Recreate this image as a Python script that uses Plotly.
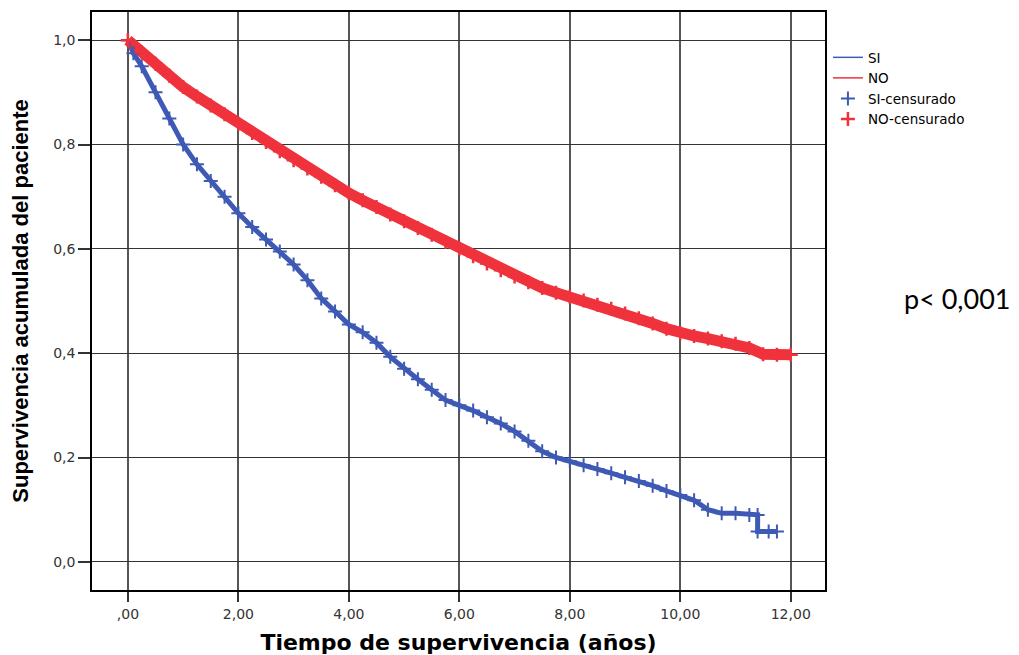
import plotly.graph_objects as go

# ---- data ----
t_no = [0, 0.25, 0.5, 0.75, 1, 1.25, 1.5, 1.75, 2, 2.25, 2.5, 2.75, 3, 3.25, 3.5, 3.75,
        4, 4.25, 4.5, 4.75, 5, 5.25, 5.5, 5.75, 6, 6.25, 6.5, 6.75, 7, 7.25, 7.5, 7.75,
        8, 8.25, 8.5, 8.75, 9, 9.25, 9.5, 9.75, 10, 10.25, 10.5, 10.75, 11, 11.25, 11.5,
        11.75, 12]
s_no = [1.0, 0.977, 0.955, 0.932, 0.91, 0.892, 0.875, 0.858, 0.84, 0.822, 0.805, 0.787,
        0.77, 0.754, 0.738, 0.722, 0.707, 0.693, 0.68, 0.666, 0.653, 0.64, 0.627, 0.613,
        0.60, 0.586, 0.572, 0.559, 0.547, 0.536, 0.525, 0.516, 0.508, 0.501, 0.493, 0.485,
        0.476, 0.467, 0.457, 0.447, 0.438, 0.433, 0.428, 0.423, 0.418, 0.41, 0.398, 0.397,
        0.397]

t_si = [0, 0.1, 0.25, 0.5, 0.75, 1, 1.25, 1.5, 1.75, 2, 2.25, 2.5, 2.75, 3, 3.25, 3.5,
        3.75, 4, 4.25, 4.5, 4.75, 5, 5.25, 5.5, 5.75, 6, 6.25, 6.5, 6.75, 7, 7.25, 7.5,
        7.75, 8, 8.25, 8.5, 8.75, 9, 9.25, 9.5, 9.75, 10, 10.25, 10.5, 10.75, 11, 11.25,
        11.4, 11.4, 11.6, 11.75]
s_si = [1.0, 0.975, 0.95, 0.9, 0.85, 0.80, 0.762, 0.73, 0.70, 0.668, 0.642, 0.618, 0.595,
        0.57, 0.54, 0.505, 0.48, 0.455, 0.44, 0.42, 0.393, 0.37, 0.35, 0.33, 0.31, 0.30,
        0.29, 0.277, 0.265, 0.25, 0.232, 0.212, 0.2, 0.193, 0.185, 0.178, 0.17, 0.162,
        0.155, 0.146, 0.136, 0.128, 0.118, 0.1, 0.093, 0.093, 0.09, 0.09, 0.058, 0.058,
        0.058]

x_ticks = [0, 2, 4, 6, 8, 10, 12]
x_labels = [",00", "2,00", "4,00", "6,00", "8,00", "10,00", "12,00"]
y_ticks = [0, 0.2, 0.4, 0.6, 0.8, 1.0]
y_labels = ["0,0", "0,2", "0,4", "0,6", "0,8", "1,0"]

BLUE = "#3F5AB4"
RED = "#EF323C"

fig = go.Figure()

# thick visual bands (no legend)
fig.add_trace(go.Scatter(x=t_si, y=s_si, mode="lines", line=dict(color=BLUE, width=5),
                         showlegend=False, hoverinfo="skip"))
fig.add_trace(go.Scatter(x=t_no, y=s_no, mode="lines", line=dict(color=RED, width=11),
                         showlegend=False, hoverinfo="skip"))

# legend entries
fig.add_trace(go.Scatter(x=t_si, y=s_si, mode="lines", name="SI",
                         line=dict(color=BLUE, width=1.5)))
fig.add_trace(go.Scatter(x=t_no, y=s_no, mode="lines", name="NO",
                         line=dict(color=RED, width=1.5)))
fig.add_trace(go.Scatter(x=t_si, y=s_si, mode="markers", name="SI-censurado",
                         marker=dict(symbol="cross-thin", size=10, color=BLUE,
                                     line=dict(color=BLUE, width=2))))
fig.add_trace(go.Scatter(x=t_no, y=s_no, mode="markers", name="NO-censurado",
                         marker=dict(symbol="cross-thin", size=10, color=RED,
                                     line=dict(color=RED, width=2.5))))

fig.add_annotation(text="p< 0,001", xref="paper", yref="paper", x=1.18, y=0.505,
                   xanchor="center", yanchor="middle", showarrow=False,
                   font=dict(family="Lato, Open Sans, sans-serif", size=27, color="black"))

fig.update_layout(
    width=1019, height=655,
    margin=dict(l=92, r=194, t=12, b=65),
    paper_bgcolor="white", plot_bgcolor="white",
    font=dict(family="Liberation Sans, Arial, sans-serif", size=13, color="#333"),
    legend=dict(x=1.004, y=0.948, xanchor="left", yanchor="top",
                font=dict(family="DejaVu Sans, Verdana, sans-serif", size=13.5, color="black"),
                bgcolor="rgba(0,0,0,0)", itemwidth=30, tracegroupgap=0),
    showlegend=True,
)

fig.update_xaxes(
    range=[-0.65, 12.62], tickvals=x_ticks, ticktext=x_labels, automargin=False,
    showgrid=True, gridcolor="#555", gridwidth=1.5, zeroline=False,
    showline=True, linecolor="black", linewidth=1.5, mirror=True,
    ticks="outside", ticklen=10, tickcolor="#333", tickwidth=1.5,
    tickfont=dict(family="DejaVu Sans, Verdana, sans-serif", size=14, color="#333"),
    title=dict(text="Tiempo de supervivencia (años)", standoff=14,
               font=dict(family="DejaVu Sans, Verdana, sans-serif", size=22, color="black",
                         weight="bold")),
)
fig.update_yaxes(
    range=[-0.054, 1.054], tickvals=y_ticks, ticktext=y_labels, automargin=False,
    showgrid=True, gridcolor="#333", gridwidth=1, zeroline=False,
    showline=True, linecolor="black", linewidth=1.5, mirror=True,
    ticks="outside", ticklen=12, tickcolor="#333", tickwidth=1.5,
    tickfont=dict(family="DejaVu Sans, Verdana, sans-serif", size=14, color="#333"),
    title=dict(text="Supervivencia acumulada del paciente", standoff=18,
               font=dict(family="Liberation Sans Narrow, Liberation Sans, Arial, sans-serif",
                         size=22, color="black", weight="bold")),
)

fig.write_html("out.html")
